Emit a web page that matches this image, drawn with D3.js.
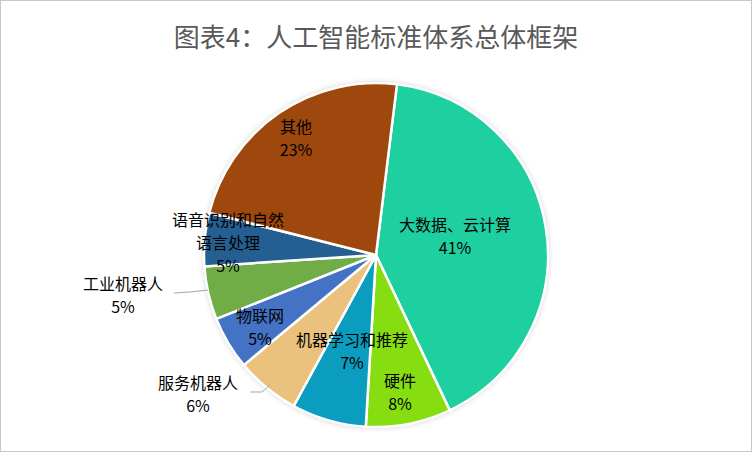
<!DOCTYPE html>
<html><head><meta charset="utf-8">
<script src="https://cdn.jsdelivr.net/npm/d3@7"></script>
<style>body{margin:0;background:#fff}</style></head>
<body><svg id="c" width="752" height="465"></svg>
<script>
const categories=["大数据、云计算","硬件","机器学习和推荐","服务机器人","物联网","工业机器人","语音识别和自然语言处理","其他"];
const values=[41,8,7,6,5,5,5,23];
const colors=["#1ECF9F","#86DE10","#0B9DBF","#EAC27E","#4472C4","#70AD47","#255E91","#9E480E"];
const labelLines=[["大数据、云计算","41%"],["硬件","8%"],["机器学习和推荐","7%"],["服务机器人","6%"],["物联网","5%"],["工业机器人","5%"],["语音识别和自然","语言处理","5%"],["其他","23%"]];
const labelPos=[[455,225],[400,381],[352,340],[198,383],[260,316],[123,284],[228,220],[296,127]];
const svg=d3.select("#c");
svg.append("rect").attr("x",0.5).attr("y",0.5).attr("width",751).attr("height",451).attr("fill","#fff").attr("stroke","#c8c8c8");
svg.append("text").attr("x",376).attr("y",47).attr("text-anchor","middle").attr("font-family","Noto Sans CJK SC").attr("font-size",26).attr("fill","#595959").text("图表4：人工智能标准体系总体框架");
const defs=svg.append("defs");
const f=defs.append("filter").attr("id","sh").attr("x","-20%").attr("y","-20%").attr("width","140%").attr("height","140%");
f.append("feGaussianBlur").attr("in","SourceAlpha").attr("stdDeviation",3);
f.append("feComponentTransfer").append("feFuncA").attr("type","linear").attr("slope",0.25);
const m=f.append("feMerge");m.append("feMergeNode");m.append("feMergeNode").attr("in","SourceGraphic");
const cx=376,cy=255,r=172;
const st=7*Math.PI/180;
const pie=d3.pie().sort(null).startAngle(st).endAngle(st+2*Math.PI);
const arc=d3.arc().innerRadius(0).outerRadius(r);
const g=svg.append("g").attr("transform",`translate(${cx},${cy})`);
g.append("circle").attr("r",r).attr("fill","#fff").attr("filter","url(#sh)");
g.selectAll("path").data(pie(values)).join("path").attr("d",arc).attr("fill",(d,i)=>colors[i]).attr("stroke","#fff").attr("stroke-width",2.5);
// leader lines
const lines=[[[5,cx-105,cy+24],[cx-160,cy+38]],[[3,0,0]]];
svg.append("path").attr("d","M174,293 L190,292 L208,290").attr("stroke","#a6a6a6").attr("fill","none");
svg.append("path").attr("d","M250,392 L262,392 L270,385").attr("stroke","#a6a6a6").attr("fill","none");
labelLines.forEach((ls,i)=>{
  const t=svg.append("text").attr("font-family","Noto Sans CJK SC").attr("font-size",16).attr("fill","#000").attr("text-anchor","middle");
  ls.forEach((s,j)=>t.append("tspan").attr("x",labelPos[i][0]).attr("y",labelPos[i][1]+6+j*23).text(s));
});
</script></body></html>
